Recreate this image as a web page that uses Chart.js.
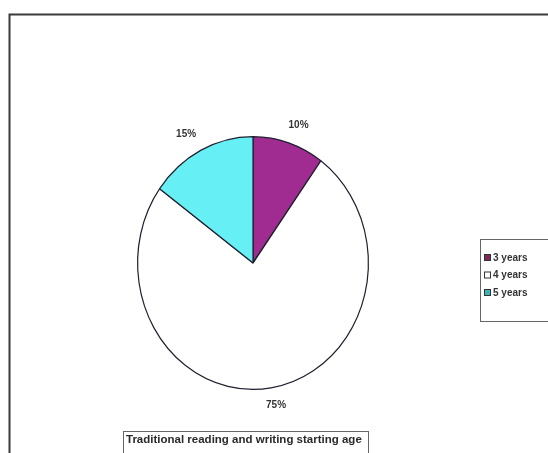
<!DOCTYPE html>
<html>
<head>
<meta charset="utf-8">
<script src="https://cdn.jsdelivr.net/npm/chart.js@4.4.1/dist/chart.umd.min.js"></script>
<style>
  html, body { margin: 0; padding: 0; background: #fff; }
  #wrap { position: relative; width: 548px; height: 453px; }
</style>
</head>
<body>
<div id="wrap"><canvas id="c" width="548" height="453"></canvas></div>
<script>
// Edad de inicio de lectoescritura tradicional
const categories = ['3 years', '4 years', '5 years'];
const shares     = [10, 75, 15];
const sliceFill  = ['#a02c92', '#ffffff', '#66f0f6'];
const keyFill    = ['#7c2a5c', '#ffffff', '#3cb4b4'];
const chartTitle = 'Traditional reading and writing starting age';

const FONT = '"Liberation Sans", Arial, sans-serif';
const Y_STRETCH = 1.095;   // la tarta sale algo más alta que ancha

// marco, leyenda, título y etiquetas de porcentaje
const decor = {
  id: 'decor',
  beforeDatasetsDraw(chart) {
    const { ctx } = chart;
    const a = chart.getDatasetMeta(0).data[0];
    ctx.save();
    ctx.translate(a.x, a.y);
    ctx.scale(1, Y_STRETCH);
    ctx.translate(-a.x, -a.y);
  },
  afterDatasetsDraw(chart) {
    const { ctx } = chart;
    ctx.restore();

    // marco exterior
    ctx.save();
    ctx.strokeStyle = '#3a3a3a';
    ctx.lineWidth = 2;
    ctx.beginPath();
    ctx.moveTo(9.5, 453);
    ctx.lineTo(9.5, 14.5);
    ctx.lineTo(548, 14.5);
    ctx.stroke();

    // etiquetas de porcentaje fuera de cada porción
    ctx.font = 'bold 10px ' + FONT;
    ctx.fillStyle = '#333';
    ctx.textAlign = 'center';
    ctx.textBaseline = 'middle';
    chart.getDatasetMeta(0).data.forEach((arc, i) => {
      const mid = (arc.startAngle + arc.endAngle) / 2;
      const r = arc.outerRadius + 12;
      const s = Math.cos(mid), c = Math.sin(mid);
      const txt = shares[i] + '%';
      const w = ctx.measureText(txt).width;
      const x = arc.x + r * s + s * w;
      const y = arc.y + r * c * Y_STRETCH + c * 5;
      ctx.fillText(txt, x, y);
    });

    // leyenda
    ctx.strokeStyle = '#666';
    ctx.lineWidth = 1;
    ctx.strokeRect(480.5, 239.5, 80, 82);
    ctx.textAlign = 'left';
    ctx.font = 'bold 10px ' + FONT;
    categories.forEach((name, i) => {
      const y = 258 + i * 17.5;
      ctx.fillStyle = keyFill[i];
      ctx.fillRect(484.5, y - 3.5, 6, 6);
      ctx.strokeStyle = '#333';
      ctx.strokeRect(484.5, y - 3.5, 6, 6);
      ctx.fillStyle = '#333';
      ctx.fillText(name, 493, y);
    });

    // título en recuadro al pie
    ctx.strokeStyle = '#666';
    ctx.strokeRect(123.5, 431.5, 245, 30);
    ctx.font = 'bold 11.5px ' + FONT;
    ctx.fillStyle = '#2a2a2a';
    ctx.fillText(chartTitle, 126, 440);
    ctx.restore();
  }
};

new Chart(document.getElementById('c'), {
  type: 'pie',
  data: {
    labels: categories,
    datasets: [{
      data: shares,
      backgroundColor: sliceFill,
      borderColor: '#1e1e2e',
      borderWidth: 1.2,
    }],
  },
  options: {
    responsive: false,
    animation: false,
    layout: { padding: { left: 137, right: 179, top: 147, bottom: 74 } },
    plugins: {
      legend: { display: false },
      tooltip: { enabled: false },
    },
  },
  plugins: [decor],
});
</script>
</body>
</html>
